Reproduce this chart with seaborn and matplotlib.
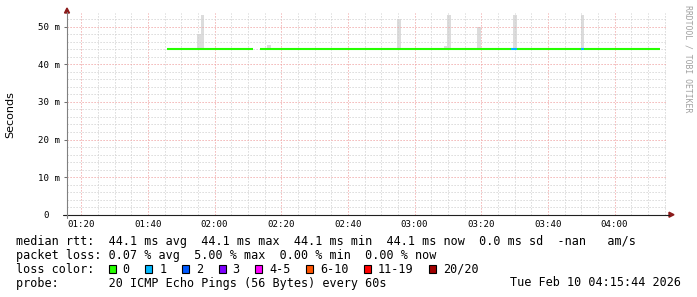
import numpy as np
import pandas as pd
import matplotlib
matplotlib.use("Agg")
import matplotlib.pyplot as plt
import seaborn as sns
from matplotlib.patches import Rectangle, Polygon
from matplotlib.lines import Line2D
from matplotlib.ticker import FixedLocator, MultipleLocator

# ---------------- data (minutes since midnight) ----------------
window_start = 75 + 44 / 60          # 01:15:44
window_len = 180                     # 3 hours
tick_minutes = [80, 100, 120, 140, 160, 180, 200, 220, 240]
tick_labels = ["01:20", "01:40", "02:00", "02:20", "02:40", "03:00", "03:20", "03:40", "04:00"]
ytick_values = [0, 10, 20, 30, 40, 50]
ytick_labels = ["0  ", "10 m", "20 m", "30 m", "40 m", "50 m"]

median_rtt = 44.1                    # ms
median_start = [105.6, 133.6]        # minutes with data
median_end = [131.5, 253.7]
loss_start = [208.9, 229.8]          # spans with lost pings
loss_end = [210.7, 230.9]
loss_count = [1, 1]

smoke_time = [114.7, 115.8, 135.7, 174.7, 188.8, 189.7, 198.7, 209.6, 229.8]
smoke_top = [48.1, 53.2, 45.2, 52.1, 44.8, 53.2, 49.9, 53.2, 53.2]

loss_labels = ["0", "1", "2", "3", "4-5", "6-10", "11-19", "20/20"]
loss_colors = ["#26ff00", "#00b8ff", "#0059ff", "#7e00ff", "#ff00ff", "#ff5500", "#ff0000", "#a10000"]

line_median = "median rtt:  44.1 ms avg  44.1 ms max  44.1 ms min  44.1 ms now  0.0 ms sd  -nan   am/s"
line_loss = "packet loss: 0.07 % avg  5.00 % max  0.00 % min  0.00 % now"
line_color = "loss color:"
line_probe = "probe:       20 ICMP Echo Pings (56 Bytes) every 60s"
date_text = "Tue Feb 10 04:15:44 2026"

# ---------------- figure ----------------
sns.set_theme(style="white")
plt.rcParams["font.family"] = ["DejaVu Sans Mono", "DejaVu Sans"]

W, H = 697, 297
fig = plt.figure(figsize=(W / 100, H / 100), dpi=100, facecolor="white")


def fx(x):
    return x / W


def fy(y):
    return 1 - y / H


y0_px, ytop_px = 214.7, 13.3
ax = fig.add_axes([fx(67), fy(y0_px), 600 / W, (y0_px - ytop_px) / H])
ax.set_facecolor("white")
ymax = (y0_px - ytop_px) / 3.76
ax.set_xlim(window_start, window_start + window_len)
ax.set_ylim(0, ymax)

# smoke
ax.bar(smoke_time, np.array(smoke_top) - median_rtt, bottom=median_rtt, width=1.15,
       align="edge", color="#dcdcdc", linewidth=0, zorder=1)

# median line split by loss colour
rows = []
sid = 0
for s, e in zip(median_start, median_end):
    cuts = sorted({s, e} | {v for a, b in zip(loss_start, loss_end) for v in (a, b) if s < v < e})
    for a, b in zip(cuts[:-1], cuts[1:]):
        mid = (a + b) / 2
        lost = next((c for ls, le, c in zip(loss_start, loss_end, loss_count) if ls <= mid <= le), 0)
        rows.append(dict(seg=sid, t=a, rtt=median_rtt, loss=str(lost)))
        rows.append(dict(seg=sid, t=b, rtt=median_rtt, loss=str(lost)))
        sid += 1
df = pd.DataFrame(rows)
sns.lineplot(data=df, x="t", y="rtt", units="seg", estimator=None, hue="loss",
             palette={"0": loss_colors[0], "1": loss_colors[1]}, legend=False,
             linewidth=1.5, ax=ax, zorder=3, solid_capstyle="butt")
ax.set_xlabel("")
ax.set_ylabel("")

# grid & ticks
ax.xaxis.set_major_locator(FixedLocator(tick_minutes))
ax.set_xticklabels(tick_labels)
ax.xaxis.set_minor_locator(MultipleLocator(5))
ax.yaxis.set_major_locator(FixedLocator(ytick_values))
ax.set_yticklabels(ytick_labels)
ax.yaxis.set_minor_locator(MultipleLocator(2))
ax.set_axisbelow("line")
ax.grid(which="minor", color="#d2d2d2", linewidth=0.72, linestyle=(0, (1.2, 1.8)))
ax.grid(which="major", color="#f0a4a4", linewidth=0.72, linestyle=(0, (1.2, 1.8)))
for sp in ax.spines.values():
    sp.set_visible(False)
ax.tick_params(axis="x", which="both", length=0, pad=3.5, labelsize=6.6, colors="#000000")
ax.tick_params(axis="y", which="major", length=2.5, width=0.75, color="#707070",
               pad=2.5, labelsize=6.6, labelcolor="#000000", left=True)
ax.tick_params(axis="y", which="minor", length=0)

# axes lines and arrows
fig.add_artist(Line2D([fx(63), fx(669)], [fy(y0_px), fy(y0_px)], color="#202020", lw=0.8))
fig.add_artist(Line2D([fx(67), fx(67)], [fy(218), fy(12)], color="#808080", lw=0.8))
fig.add_artist(Polygon([[fx(64.5), fy(13)], [fx(69.5), fy(13)], [fx(67), fy(8)]],
                       closed=True, color="#8b1a1a", transform=fig.transFigure))
fig.add_artist(Polygon([[fx(669), fy(212.2)], [fx(669), fy(217.2)], [fx(674), fy(y0_px)]],
                       closed=True, color="#8b1a1a", transform=fig.transFigure))

# labels
fig.text(fx(10), fy(115), "Seconds", rotation=90, ha="center", va="center",
         fontsize=8, family=["DejaVu Sans"], color="#000000")
fig.text(fx(688), fy(5), "RRDTOOL / TOBI OETIKER", rotation=270, ha="center", va="top",
         fontsize=5.9, color="#a0a0a0")

fs = 8.5
pitch = 7.11
fig.text(fx(16), fy(245.5), line_median, fontsize=fs, va="baseline", color="#000000")
fig.text(fx(16), fy(259), line_loss, fontsize=fs, va="baseline", color="#000000")
fig.text(fx(16), fy(272.8), line_color, fontsize=fs, va="baseline", color="#000000")
fig.text(fx(16), fy(286.5), line_probe, fontsize=fs, va="baseline", color="#000000")
fig.text(fx(681), fy(286.5), date_text, fontsize=fs, va="baseline", ha="right", color="#000000")

sx = 108.7
for lab, col in zip(loss_labels, loss_colors):
    fig.add_artist(Rectangle((fx(sx), fy(273.2)), 7 / W, 8.3 / H, transform=fig.transFigure,
                             facecolor=col, edgecolor="#000000", linewidth=0.8))
    fig.text(fx(sx + 14), fy(272.8), lab, fontsize=fs, va="baseline", color="#000000")
    sx = sx + 14 + pitch * len(lab) + 15.5

fig.savefig("out.png", dpi=100, facecolor="white")
